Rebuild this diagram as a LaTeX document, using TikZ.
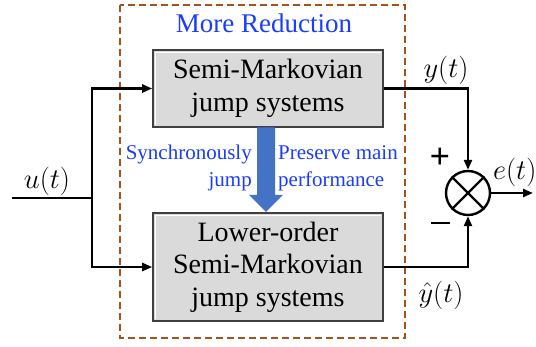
\RequirePackage{fix-cm}
\documentclass[tikz,border=0pt]{standalone}
\usepackage{fontspec}
\setmainfont{Liberation Serif}
\usetikzlibrary{arrows.meta,calc}
\definecolor{brn}{RGB}{166,82,28}
\definecolor{txtblue}{RGB}{25,60,255}
\definecolor{arrblue}{RGB}{68,114,196}
\definecolor{boxgray}{RGB}{218,218,218}
\begin{document}
\begin{tikzpicture}[x=1pt,y=-1pt,
  sysbox/.style={draw=black!75,line width=1.6pt,fill=boxgray,minimum width=230pt,
     align=center,inner sep=0pt,font=\fontsize{28}{32.5}\selectfont},
  conn/.style={line width=2.4pt},
  tip/.style={-{Triangle[length=10pt,width=8pt]}},
  bluetxt/.style={text=txtblue,font=\fontsize{21}{27}\selectfont,inner sep=0pt},
  mathlbl/.style={font=\fontsize{28.5}{30}\selectfont,inner sep=0pt}]
\useasboundingbox (0,0) rectangle (536,347);
% dashed frame
\draw[brn,line width=2.4pt,dash pattern=on 7pt off 4pt] (120,5) rectangle (405,338);
\node[text=txtblue,font=\fontsize{27}{30}\selectfont,inner sep=0pt] (title) at (264,23) {More Reduction};
% boxes
\node[sysbox,minimum height=77pt] (sys) at (268,88.5) {Semi-Markovian\\jump systems};
\node[sysbox,minimum height=108pt] (red) at (268,267) {Lower-order\\Semi-Markovian\\jump systems};
% bevel highlights
\draw[white,line width=1pt] ($(sys.south west)+(3,-3)$) -- ($(sys.north west)+(3,3)$) -- ($(sys.north east)+(-3,3)$);
\draw[white,line width=1pt] ($(red.south west)+(3,-3)$) -- ($(red.north west)+(3,3)$) -- ($(red.north east)+(-3,3)$);
% blue arrow
\fill[arrblue] (257,127.5) -- (275,127.5) -- (275,195) -- (283,195) -- (266,212) -- (249,195) -- (257,195) -- cycle;
\node[bluetxt,anchor=east,align=right] (sync) at (252,168) {Synchronously\\jump};
\node[bluetxt,anchor=west,align=left] (pres) at (278,168) {Preserve main\\performance};
% input
\coordinate (in) at (12,198);
\coordinate (split) at (92,198);
\draw[conn] (in) -- (split);
\draw[conn,tip] (split) |- (sys.west);
\draw[conn,tip] (split) |- (red.west);
\node[mathlbl] (u) at (47,181) {$u(t)$};
% summing junction
\node[circle,draw,line width=2.4pt,minimum size=44pt,inner sep=0pt] (sum) at (468,193) {};
\draw[line width=2.4pt] (sum.north west) -- (sum.south east);
\draw[line width=2.4pt] (sum.north east) -- (sum.south west);
\draw[conn,tip] (sys.east) -| (sum.north);
\draw[conn,tip] (red.east) -| (sum.south);
\coordinate (out) at (533,193);
\draw[conn,tip] (sum.east) -- (out);
\node[mathlbl] (y) at (446,70) {$y(t)$};
\node[mathlbl] (yh) at (441,295) {$\hat{y}(t)$};
\node[mathlbl,anchor=west] (e) at (493,172) {$e(t)$};
\node[font=\fontsize{36}{36}\selectfont\bfseries,inner sep=0pt] (plus) at (440,158) {+};
\draw[line width=2.8pt] (431,223) -- (450,223);
\end{tikzpicture}
\end{document}
